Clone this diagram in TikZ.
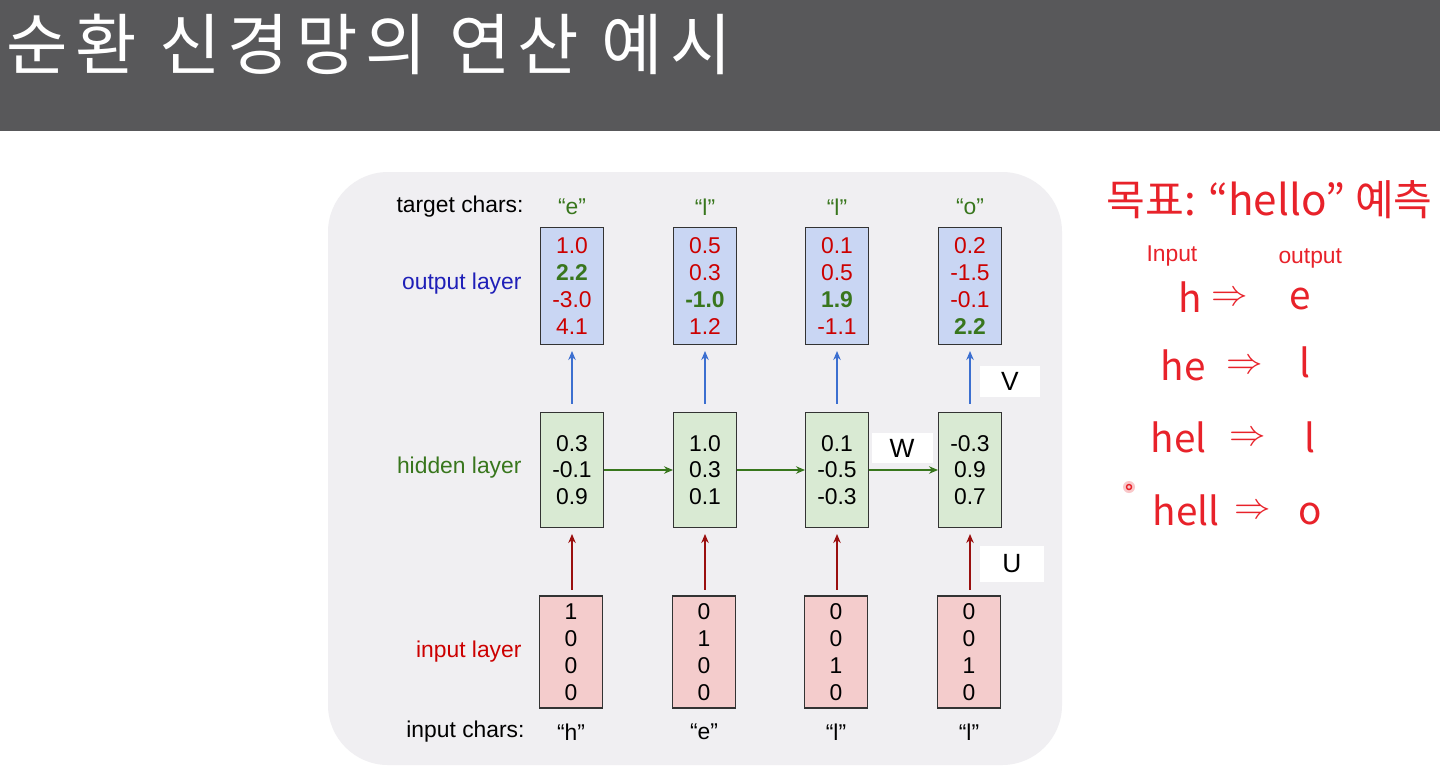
\documentclass[tikz,border=0pt]{standalone}
\usepackage{fontspec}
\setmainfont{Liberation Sans}
\newfontfamily\krfont{Noto Sans CJK KR}
\newfontfamily\krtitle[LetterSpace=11]{Noto Sans CJK KR}
\usepackage{xcolor}
\usepackage{tikz}
\usetikzlibrary{arrows.meta,positioning}

\definecolor{titlegray}{HTML}{58585A}
\definecolor{panelgray}{HTML}{F0EFF2}
\definecolor{boxline}{HTML}{333333}
\definecolor{outfill}{HTML}{C9D6F3}
\definecolor{hidfill}{HTML}{D9EAD3}
\definecolor{infill}{HTML}{F4CCCC}
\definecolor{numred}{HTML}{CC0000}
\definecolor{numgreen}{HTML}{38761D}
\definecolor{outblue}{HTML}{1F1FB8}
\definecolor{arrblue}{HTML}{3C6FD0}
\definecolor{arrred}{HTML}{9A0F0F}
\definecolor{penred}{HTML}{E8222A}

\begin{document}
\begin{tikzpicture}[x=0.02cm, y=-0.02cm,
  outbox/.style={draw=boxline, fill=outfill, minimum width=1.26cm, minimum height=2.34cm, inner sep=0pt, align=center, text=numred, font=\fontsize{13}{15.2}\selectfont},
  hidbox/.style={draw=boxline, fill=hidfill, minimum width=1.26cm, minimum height=2.3cm, inner sep=0pt, align=center, font=\fontsize{13}{15.2}\selectfont},
  inbox/.style={draw=boxline, fill=infill, minimum width=1.26cm, minimum height=2.24cm, inner sep=0pt, align=center, font=\fontsize{13}{15.4}\selectfont},
  rowlabel/.style={anchor=east, inner sep=0pt, font=\fontsize{13}{15}\selectfont},
  chr/.style={inner sep=0pt, font=\fontsize{13}{15}\selectfont},
  wlabel/.style={fill=white, inner sep=0pt, font=\fontsize{15}{17}\selectfont},
  pen/.style={text=penred, inner sep=0pt, font=\krfont\fontsize{22}{24}\selectfont},
  >={Stealth[length=1.8mm,width=1.5mm]}, semithick
]
\useasboundingbox (0,0) rectangle (1440,772);
\fill[white] (0,0) rectangle (1440,772);

% title bar
\fill[titlegray] (0,0) rectangle (1440,131);
\node[anchor=west, text=white, inner sep=0pt, font=\krtitle\fontsize{38}{40}\selectfont] (title) at (6,44) {순환 신경망의 연산 예시};

% panel
\fill[panelgray, rounded corners=1.2cm] (328,172) rectangle (1062,765);

% row labels
\node[rowlabel] (tlab) at (524,207) {target chars:};
\node[rowlabel, text=outblue] (olab) at (522,284) {output layer};
\node[rowlabel, text=numgreen] (hlab) at (522,468) {hidden layer};
\node[rowlabel, text=numred] (ilab) at (522,652) {input layer};
\node[rowlabel] (clab) at (525,732) {input chars:};

% target chars
\node[chr, text=numgreen] (t1) at (572,207) {“e”};
\node[chr, text=numgreen] (t2) at (705,207) {“l”};
\node[chr, text=numgreen] (t3) at (837,207) {“l”};
\node[chr, text=numgreen] (t4) at (970,207) {“o”};

% output layer
\node[outbox] (o1) at (572,286) {1.0\\\textbf{\color{numgreen}2.2}\\-3.0\\4.1};
\node[outbox] (o2) at (705,286) {0.5\\0.3\\\textbf{\color{numgreen}-1.0}\\1.2};
\node[outbox] (o3) at (837,286) {0.1\\0.5\\\textbf{\color{numgreen}1.9}\\-1.1};
\node[outbox] (o4) at (970,286) {0.2\\-1.5\\-0.1\\\textbf{\color{numgreen}2.2}};

% hidden layer
\node[hidbox] (h1) at (572,470) {0.3\\-0.1\\0.9};
\node[hidbox] (h2) at (705,470) {1.0\\0.3\\0.1};
\node[hidbox] (h3) at (837,470) {0.1\\-0.5\\-0.3};
\node[hidbox] (h4) at (970,470) {-0.3\\0.9\\0.7};

% input layer
\node[inbox] (i1) at (571,652) {1\\0\\0\\0};
\node[inbox] (i2) at (704,652) {0\\1\\0\\0};
\node[inbox] (i3) at (836,652) {0\\0\\1\\0};
\node[inbox] (i4) at (969,652) {0\\0\\1\\0};

% input chars
\node[chr] (c1) at (571,732) {“h”};
\node[chr] (c2) at (704,732) {“e”};
\node[chr] (c3) at (836,732) {“l”};
\node[chr] (c4) at (969,732) {“l”};

% arrows
\draw[->, arrblue, shorten <=0.16cm, shorten >=0.12cm] (h1) -- (o1);
\draw[->, arrblue, shorten <=0.16cm, shorten >=0.12cm] (h2) -- (o2);
\draw[->, arrblue, shorten <=0.16cm, shorten >=0.12cm] (h3) -- (o3);
\draw[->, arrblue, shorten <=0.16cm, shorten >=0.12cm] (h4) -- (o4);
\draw[->, arrred, shorten <=0.12cm, shorten >=0.12cm] (i1.north -| h1) -- (h1);
\draw[->, arrred, shorten <=0.12cm, shorten >=0.12cm] (i2.north -| h2) -- (h2);
\draw[->, arrred, shorten <=0.12cm, shorten >=0.12cm] (i3.north -| h3) -- (h3);
\draw[->, arrred, shorten <=0.12cm, shorten >=0.12cm] (i4.north -| h4) -- (h4);
\draw[->, numgreen] (h1) -- (h2);
\draw[->, numgreen] (h2) -- (h3);
\draw[->, numgreen] (h3) -- (h4);

% weight labels
\node[wlabel, minimum width=1.2cm, minimum height=0.62cm] (V) at (1010,381) {V};
\node[wlabel, minimum width=1.22cm, minimum height=0.6cm] (W) at (902,448) {W};
\node[wlabel, minimum width=1.28cm, minimum height=0.72cm] (U) at (1012,564) {U};

% handwritten notes
\node[pen, anchor=west, font=\krfont\fontsize{24}{26}\selectfont] (goal) at (1106,200) {목표: “hello” 예측};
\node[pen, anchor=west, font=\fontsize{13}{15}\selectfont] (inhead) at (1146,256) {Input};
\node[pen, anchor=west, font=\fontsize{13}{15}\selectfont] (outhead) at (1278,258) {output};
\node[pen, anchor=west] (w1) at (1178,297) {h};
\node[pen] (a1) at (1230,299) {$\Rightarrow$};
\node[pen] (r1) at (1300,299) {e};
\node[pen, anchor=west] (w2) at (1160,365) {he};
\node[pen] (a2) at (1245,367) {$\Rightarrow$};
\node[pen] (r2) at (1305,362) {l};
\node[pen, anchor=west] (w3) at (1150,437) {hel};
\node[pen] (a3) at (1248,439) {$\Rightarrow$};
\node[pen] (r3) at (1310,437) {l};
\node[pen, anchor=west] (w4) at (1152,510) {hell};
\node[pen] (a4) at (1253,512) {$\Rightarrow$};
\node[pen] (r4) at (1310,514) {o};
\fill[penred!25] (1129,487) circle (6);
\draw[penred, thick] (1129,487) circle (2.5);
\end{tikzpicture}
\end{document}
